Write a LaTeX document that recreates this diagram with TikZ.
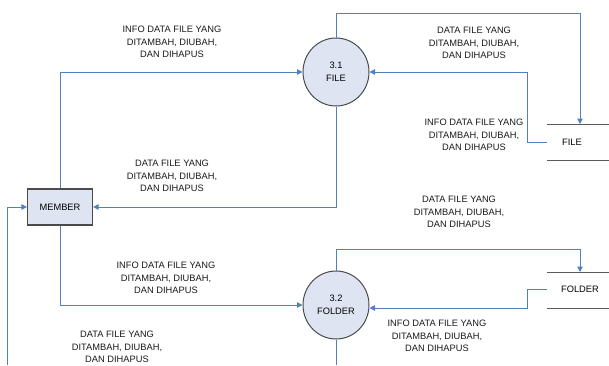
\documentclass[tikz,border=0pt]{standalone}
\usepackage{fontspec}
\setmainfont{Liberation Sans}
\usetikzlibrary{arrows.meta,shapes.geometric}
\definecolor{flowblue}{RGB}{79,129,189}
\definecolor{procfill}{RGB}{222,228,242}
\definecolor{edgegray}{RGB}{75,75,75}
\definecolor{storegray}{RGB}{90,90,90}
\begin{document}
\begin{tikzpicture}[x=1pt,y=-1pt,
  flow/.style={draw=flowblue, line width=1pt, -{Triangle[length=5.5pt,width=5.5pt]}},
  plainflow/.style={draw=flowblue, line width=1pt},
  proc/.style={ellipse, draw=edgegray, line width=1pt, fill=procfill, minimum width=66pt, minimum height=68pt, inner sep=0pt, align=center, font=\fontsize{9.3}{13}\selectfont},
  ent/.style={rectangle, draw=edgegray, line width=1.1pt, fill=procfill, minimum width=65pt, minimum height=36pt, inner sep=0pt, font=\fontsize{9.3}{12}\selectfont},
  lbl/.style={align=center, font=\fontsize{9.3}{12.5}\selectfont, inner sep=0pt, text=black!90},
  storetext/.style={inner sep=0pt, font=\fontsize{9.3}{12}\selectfont},
  storeline/.style={draw=storegray, line width=0.9pt}
]
\useasboundingbox (0,0) rectangle (609,365);

% processes and entity
\node[proc] (c1) at (336,72) {3.1\\FILE};
\node[proc] (c2) at (336,305) {3.2\\FOLDER};
\node[ent] (mem) at (60,207) {MEMBER};

% data stores
\node[storetext] (fs) at (572,142) {FILE};
\draw[storeline] (547,124) -- (609,124);
\draw[storeline] (547,160) -- (609,160);
\node[storetext] (fo) at (580,289) {FOLDER};
\draw[storeline] (547,272) -- (609,272);
\draw[storeline] (547,308) -- (609,308);

% coordinates
\coordinate (fstop) at (580,124);
\coordinate (fsin) at (547,142);
\coordinate (fotop) at (580,272);
\coordinate (foin) at (547,289);
\coordinate (t1) at (336,13);
\coordinate (t2) at (336,249);
\coordinate (b2) at (336,365);
\coordinate (lb) at (7,365);
\coordinate (lm) at (7,207);

% connectors
\draw[flow] (mem.north) |- (c1.west);
\draw[flow] (c1.south) |- (mem.east);
\draw[flow] (c1.north) -- (t1) -| (fstop);
\draw[flow] (fsin) -- ++(-20,0) |- (c1.east);
\draw[flow] (mem.south) |- (c2.west);
\draw[flow] (c2.north) -- (t2) -| (fotop);
\draw[flow] (foin) -- ++(-20,0) |- ([yshift=-3pt]c2.east);
\draw[plainflow] (c2.south) -- (b2);
\draw[flow] (lb) -- (lm) -- (mem.west);

% labels
\node[lbl] (l1) at (172,42) {INFO DATA FILE YANG\\DITAMBAH, DIUBAH,\\DAN DIHAPUS};
\node[lbl] (l2) at (172,176) {DATA FILE YANG\\DITAMBAH, DIUBAH,\\DAN DIHAPUS};
\node[lbl] (l3) at (474,43) {DATA FILE YANG\\DITAMBAH, DIUBAH,\\DAN DIHAPUS};
\node[lbl] (l4) at (474,135) {INFO DATA FILE YANG\\DITAMBAH, DIUBAH,\\DAN DIHAPUS};
\node[lbl] (l5) at (459,212) {DATA FILE YANG\\DITAMBAH, DIUBAH,\\DAN DIHAPUS};
\node[lbl] (l6) at (166,278) {INFO DATA FILE YANG\\DITAMBAH, DIUBAH,\\DAN DIHAPUS};
\node[lbl] (l7) at (117,347) {DATA FILE YANG\\DITAMBAH, DIUBAH,\\DAN DIHAPUS};
\node[lbl] (l8) at (437,336) {INFO DATA FILE YANG\\DITAMBAH, DIUBAH,\\DAN DIHAPUS};
\end{tikzpicture}
\end{document}
